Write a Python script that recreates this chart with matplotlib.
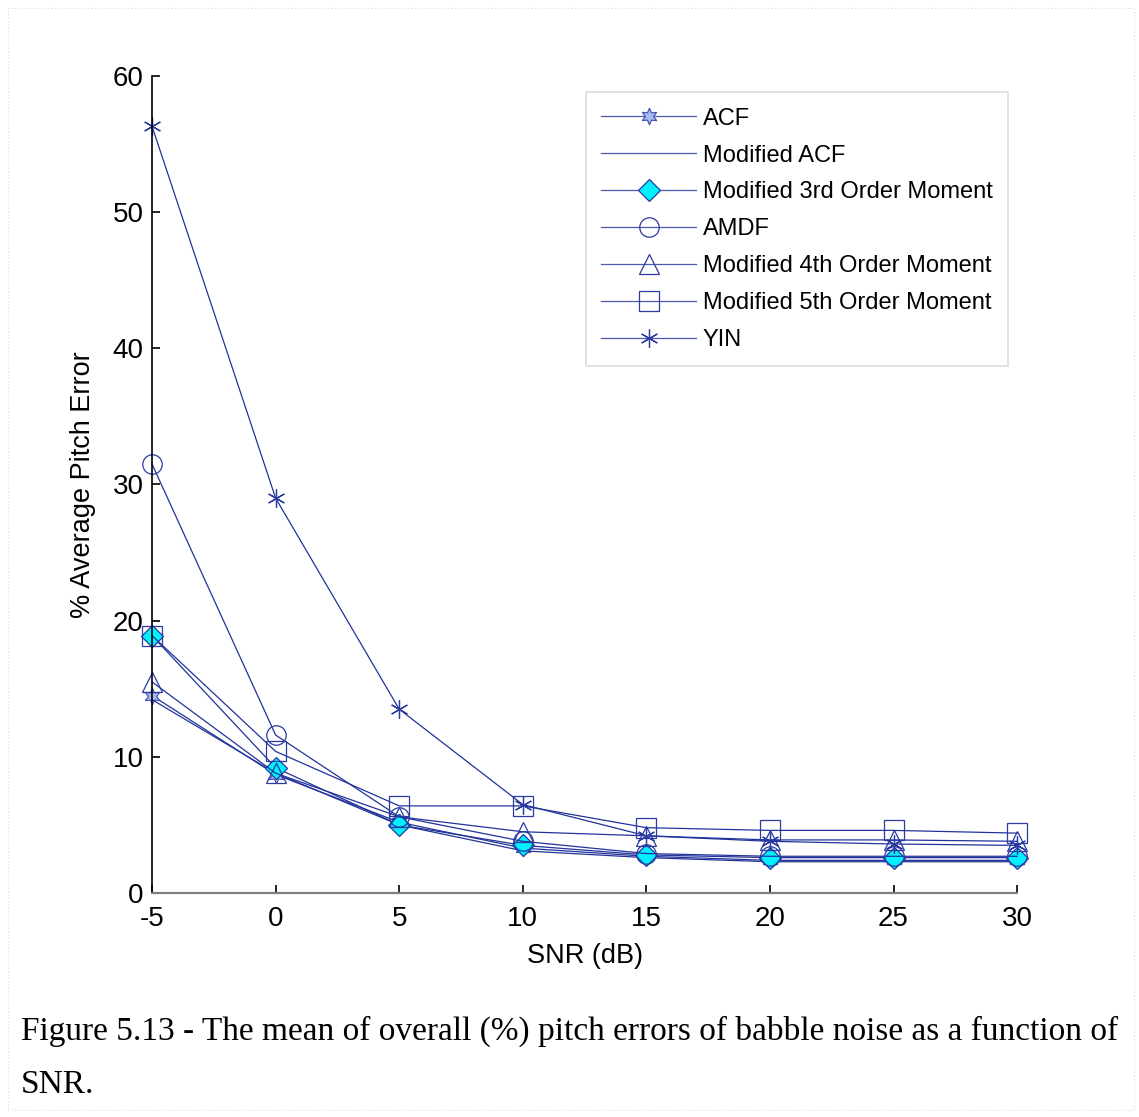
import matplotlib
matplotlib.use("Agg")
import matplotlib.pyplot as plt
from matplotlib.patches import Rectangle

# SNR levels (dB)
snr = [-5, 0, 5, 10, 15, 20, 25, 30]

# Mean overall pitch error (%) for each detector under babble noise
acf = [14.5, 8.7, 5.2, 3.3, 2.7, 2.4, 2.4, 2.4]
mod_acf = [14.2, 8.8, 5.0, 3.1, 2.6, 2.3, 2.3, 2.3]
mod_3rd = [18.9, 9.2, 5.0, 3.5, 2.8, 2.6, 2.6, 2.6]
amdf = [31.5, 11.6, 5.6, 3.8, 2.9, 2.7, 2.7, 2.7]
mod_4th = [15.5, 8.8, 5.6, 4.5, 4.2, 3.9, 3.9, 3.8]
mod_5th = [18.9, 10.4, 6.4, 6.4, 4.8, 4.6, 4.6, 4.4]
yin = [56.3, 29.0, 13.5, 6.5, 4.2, 3.8, 3.6, 3.5]

labels = ["ACF", "Modified ACF", "Modified 3rd Order Moment", "AMDF",
          "Modified 4th Order Moment", "Modified 5th Order Moment", "YIN"]
xticks = [-5, 0, 5, 10, 15, 20, 25, 30]
yticks = [0, 10, 20, 30, 40, 50, 60]

line_col = "#22339a"
sans = ["Liberation Sans", "DejaVu Sans"]
serif = ["Liberation Serif", "DejaVu Serif"]

fig = plt.figure(figsize=(11.39, 11.17), dpi=100)
ax = fig.add_axes([0.1335, 0.2005, 0.7595, 0.7315])

lw = 0.9
ax.plot(snr, acf, color=line_col, lw=lw, marker=(6, 1, 0), ms=12,
        mfc="#a9b9f2", mec="#3a4fb0", mew=0.8, label=labels[0])
ax.plot(snr, mod_acf, color=line_col, lw=lw, label=labels[1])
ax.plot(snr, mod_3rd, color=line_col, lw=lw, marker="D", ms=11,
        mfc="#00f0ff", mec="#2a3aa0", mew=0.9, label=labels[2])
ax.plot(snr, amdf, color=line_col, lw=lw, marker="o", ms=14,
        mfc="none", mec="#2a3aa0", mew=0.9, label=labels[3])
ax.plot(snr, mod_4th, color=line_col, lw=lw, marker="^", ms=15,
        mfc="none", mec="#2a3aa0", mew=0.9, label=labels[4])
ax.plot(snr, mod_5th, color=line_col, lw=lw, marker="s", ms=14,
        mfc="none", mec="#2a3aa0", mew=0.9, label=labels[5])
ax.plot(snr, yin, color=line_col, lw=lw, marker=(6, 2, 0), ms=13,
        mec="#2a3aa0", mew=0.9, label=labels[6])

ax.set_xlim(-5, 30)
ax.set_ylim(0, 60)
ax.set_xticks(xticks)
ax.set_yticks(yticks)
ax.set_xticklabels([str(v) for v in xticks], fontfamily=sans, fontsize=20)
ax.set_yticklabels([str(v) for v in yticks], fontfamily=sans, fontsize=20)
ax.tick_params(direction="in", length=6, width=1.2, color="black")
ax.tick_params(axis="x", pad=9)
ax.tick_params(axis="y", pad=6)

ax.spines["top"].set_visible(False)
ax.spines["right"].set_visible(False)
ax.spines["left"].set_color("black")
ax.spines["left"].set_linewidth(1.2)
ax.spines["bottom"].set_color("#808080")
ax.spines["bottom"].set_linewidth(1.6)
for ln in ax.lines:
    ln.set_clip_on(False)

ax.set_xlabel("SNR (dB)", fontfamily=sans, fontsize=19.5, labelpad=8)
ax.set_ylabel("% Average Pitch Error", fontfamily=sans, fontsize=19.5, labelpad=12)

leg = ax.legend(loc="upper right", bbox_to_anchor=(0.9896, 0.980),
                prop={"family": sans, "size": 17}, handlelength=4.0,
                handletextpad=0.3, labelspacing=0.63, borderpad=0.65,
                fancybox=False, framealpha=1, edgecolor="#dddddd",
                borderaxespad=0.0)
leg.get_frame().set_linewidth(1.2)
for h in leg.get_lines():
    h.set_color("#4a5ab0")

# Figure caption below the chart
fig.text(0.018, 0.069, "Figure 5.13 - The mean of overall (%) pitch errors of babble noise as a function of",
         fontfamily=serif, fontsize=24, ha="left", va="baseline")
fig.text(0.018, 0.0215, "SNR.",
         fontfamily=serif, fontsize=24, ha="left", va="baseline")

# Thin dotted page frame
fig.patches.append(Rectangle((0.007, 0.006), 0.989, 0.987, transform=fig.transFigure,
                             fill=False, edgecolor="#cfe0e8", lw=0.8, ls=(0, (1, 2))))

fig.savefig("out.png", dpi=100, facecolor="white")
